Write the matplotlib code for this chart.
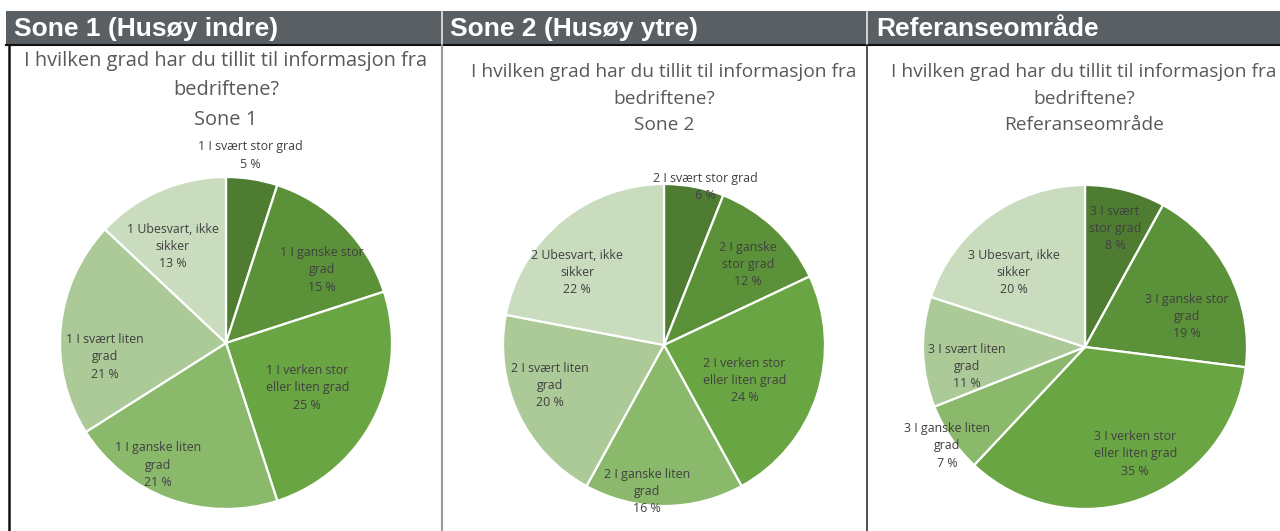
import matplotlib
matplotlib.use("Agg")
import matplotlib.pyplot as plt
from matplotlib.patches import Rectangle
from matplotlib.lines import Line2D
import numpy as np

W, H = 1280, 531

categories = ["I svært stor grad", "I ganske stor grad", "I verken stor eller liten grad",
              "I ganske liten grad", "I svært liten grad", "Ubesvart, ikke sikker"]
sone1 = [5, 15, 25, 21, 21, 13]
sone2 = [6, 12, 24, 16, 20, 22]
referanse = [8, 19, 35, 7, 11, 20]

labels1 = ["1 I svært stor grad", "1 I ganske stor\ngrad", "1 I verken stor\neller liten grad",
           "1 I ganske liten\ngrad", "1 I svært liten\ngrad", "1 Ubesvart, ikke\nsikker"]
labels2 = ["2 I svært stor grad", "2 I ganske\nstor grad", "2 I verken stor\neller liten grad",
           "2 I ganske liten\ngrad", "2 I svært liten\ngrad", "2 Ubesvart, ikke\nsikker"]
labels3 = ["3 I svært\nstor grad", "3 I ganske stor\ngrad", "3 I verken stor\neller liten grad",
           "3 I ganske liten\ngrad", "3 I svært liten\ngrad", "3 Ubesvart, ikke\nsikker"]

headers = ["Sone 1 (Husøy indre)", "Sone 2 (Husøy ytre)", "Referanseområde"]
subtitles = ["Sone 1", "Sone 2", "Referanseområde"]
question = "I hvilken grad har du tillit til informasjon fra\nbedriftene?"

colors = ["#4e7d31", "#5b9239", "#6aa543", "#8ab96b", "#abca98", "#c9dcbe"]

# layout (pixels)
pie_centers = [(226, 343), (664, 345), (1085, 347)]
pie_radii = [166, 161, 162]
title_pos = [(226, 51), (664, 63), (1084, 63)]
title_sizes = [14.4, 13.8, 13.8]
title_spacing = [1.62, 1.62, 1.62]
header_x = [14, 450, 876]
label_offsets = [
    [(0.145, 1.13), (0.58, 0.44), (0.49, -0.27), (-0.41, -0.735), (-0.73, -0.084), (-0.32, 0.58)],
    [(0.255, 0.98), (0.52, 0.50), (0.50, -0.22), (-0.105, -0.91), (-0.71, -0.25), (-0.54, 0.45)],
    [(0.185, 0.73), (0.63, 0.19), (0.31, -0.66), (-0.85, -0.61), (-0.73, -0.12), (-0.44, 0.46)],
]

fig = plt.figure(figsize=(W / 100, H / 100), dpi=100)
fig.patch.set_facecolor("white")

def fx(x):
    return x / W

def fy(y):
    return 1 - y / H

# header bar
fig.add_artist(Rectangle((fx(6), fy(44)), fx(W - 6), 33 / H, transform=fig.transFigure,
                         facecolor="#5a5f63", edgecolor="none"))
fig.add_artist(Line2D([fx(6), 1], [fy(44.5), fy(44.5)], transform=fig.transFigure,
                      color="#111111", lw=1.5))
for sx in (442, 867):
    fig.add_artist(Line2D([fx(sx), fx(sx)], [fy(12), fy(44)], transform=fig.transFigure,
                          color="#e8e8e8", lw=1.2))
fig.add_artist(Line2D([fx(442), fx(442)], [fy(45), 0], transform=fig.transFigure,
                      color="#999999", lw=1.5))
fig.add_artist(Line2D([fx(867), fx(867)], [fy(45), 0], transform=fig.transFigure,
                      color="#333333", lw=1.2))
fig.add_artist(Line2D([fx(9), fx(9)], [fy(45), 0], transform=fig.transFigure,
                      color="#111111", lw=1.8))

for hx, htxt in zip(header_x, headers):
    fig.text(fx(hx), fy(29), htxt, color="white", fontsize=19, fontweight="bold",
             family="Liberation Sans", ha="left", va="center")

datasets = [sone1, sone2, referanse]
labelsets = [labels1, labels2, labels3]

for i in range(3):
    cx, cy = pie_centers[i]
    r = pie_radii[i]
    ax = fig.add_axes([fx(cx - r), fy(cy + r), 2 * r / W, 2 * r / H])
    vals = datasets[i]
    ax.pie(vals, colors=colors, startangle=90, counterclock=False, radius=1,
           wedgeprops=dict(edgecolor="white", linewidth=1.6))
    ax.set_xlim(-1, 1)
    ax.set_ylim(-1, 1)
    ax.set_aspect("equal", adjustable="box")
    ax.axis("off")
    for lab, v, (ox, oy) in zip(labelsets[i], vals, label_offsets[i]):
        ax.text(ox, oy, f"{lab}\n{v} %", ha="center", va="center", fontsize=8.9,
                color="#404040", family="Open Sans", linespacing=1.42, clip_on=False)
    tx, ty = title_pos[i]
    fig.text(fx(tx), fy(ty), question + "\n" + subtitles[i], ha="center", va="top",
             fontsize=title_sizes[i], color="#595959", family="Open Sans",
             linespacing=title_spacing[i])

fig.savefig("out.png", dpi=100)
